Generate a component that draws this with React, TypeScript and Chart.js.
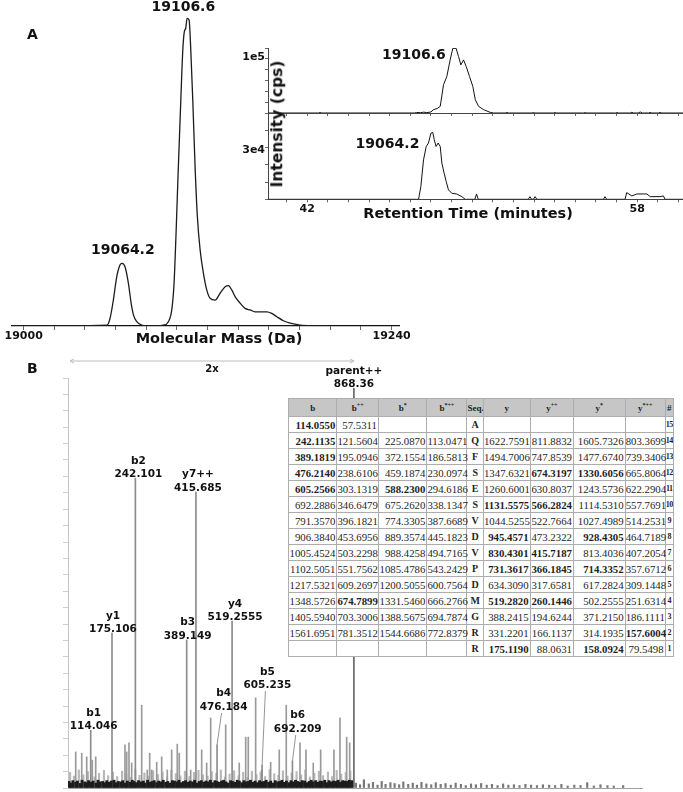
import React, { useEffect, useRef } from 'react';
import { Chart, registerables } from 'chart.js';

Chart.register(...registerables);

const SANS = '"DejaVu Sans", Verdana, sans-serif';
const SERIF = '"Liberation Serif", "Times New Roman", serif';
Chart.defaults.font.family = SANS;

// ---------------- Panel A: deconvoluted mass spectrum ----------------
const massDa = [18992, 19054.4, 19056.4, 19058.5, 19060.7, 19062.9, 19064.2, 19066.1, 19068.3, 19070.1, 19071.6, 19073.8, 19077.0, 19081.3,
  19091.1, 19094.4, 19096.6, 19098.1, 19099.4, 19100.9, 19102.5, 19103.8, 19104.8, 19105.7, 19106.6, 19107.9, 19109.0, 19110.3, 19111.8,
  19113.3, 19115.1, 19117.2, 19119.4, 19121.6, 19124.9, 19128.1, 19131.4, 19133.5, 19135.7, 19137.9, 19141.2, 19144.4, 19147.7, 19150.9,
  19154.2, 19158.6, 19161.8, 19165.1, 19169.4, 19173.8, 19180.3, 19191.2, 19201.8];
const massIntensity = [0, 0.3, 2.6, 8.4, 15.9, 19.8, 20.3, 19.2, 13.9, 7.4, 3.6, 1.4, 0.3, 0,
  0.3, 1.4, 5.2, 13.9, 30.1, 51.6, 73.2, 89.4, 95.3, 96.4, 99.6, 99.1, 89.4, 73.2, 51.6,
  35.4, 24.6, 17.2, 11.7, 9.0, 8.4, 10.6, 12.7, 13.1, 11.7, 9.5, 7.4, 5.7, 5.2, 4.6,
  4.6, 4.6, 4.1, 3.0, 1.7, 0.9, 0.3, 0.1, 0];
const massTickLabels: Record<number, string> = { 19000: '19000', 19240: '19240' };
const massPeakLabels = ['19064.2', '19106.6'];

// ---------------- Panel A inset: ion chromatograms ----------------
const rtTop = [40.1, 42.55, 42.63, 42.71, 47.2, 47.3, 47.5, 47.65, 47.8, 48.0, 48.12, 48.3, 48.45, 48.61, 48.77, 48.93, 49.06, 49.22,
  49.34, 49.45, 49.58, 49.71, 49.87, 50.03, 50.15, 50.31, 50.55, 50.87, 51.03, 51.6, 51.68, 51.76, 52.9, 52.97, 53.05, 53.95, 54.02,
  54.1, 55.4, 55.48, 55.56, 56.95, 57.02, 57.1, 57.66, 57.74, 57.82, 58.05, 58.15, 58.25, 58.55, 58.63, 58.71, 59.03, 59.11, 59.19, 60.22];
const intTop = [0, 0, 900, 0, 0, 900, 600, 1500, 700, 1800, 6000, 8000, 11900, 50600, 65500, 95200, 116000, 116000,
  101000, 86300, 95200, 83300, 65500, 47600, 23800, 11900, 6000, 1200, 0, 0, 900, 0, 0, 700, 0, 0, 800,
  0, 0, 700, 0, 0, 700, 0, 0, 1200, 0, 0, 1800, 0, 0, 1000, 0, 0, 900, 0, 0];
const rtBottom = [40.1, 47.40, 47.51, 47.64, 47.77, 47.88, 48.00, 48.09, 48.16, 48.25, 48.35, 48.45, 48.53, 48.64, 48.74, 48.85,
  49.01, 49.25, 49.50, 49.66, 50.13, 50.21, 50.29, 52.72, 52.80, 52.88, 52.97, 53.05, 53.13, 56.36, 56.44, 56.52, 57.41, 57.49,
  57.74, 57.98, 58.30, 58.47, 58.63, 59.11, 59.27, 59.35, 60.22];
const intBottom = [0, 0, 7700, 23900, 32000, 34100, 40100, 40500, 36100, 32000, 34100, 32000, 21900, 15800, 10700, 5700,
  3650, 3240, 1600, 0, 0, 3240, 0, 0, 1600, 0, 0, 1600, 0, 0, 1600, 0, 0, 4050,
  2030, 3240, 3240, 3240, 1620, 1620, 2030, 0, 0];
const rtTickLabels: Record<number, string> = { 42: '42', 58: '58' };
const eicYTickLabels = ['1e5', '3e4'];
const eicYTickValues = [100000, 30000];
const eicPeakLabels = ['19106.6', '19064.2'];

// ---------------- Panel B: MS/MS spectrum ----------------
const ionNames = ['b1', 'y1', 'b2', 'b3', 'y7++', 'b4', 'y4', 'b5', 'b6', 'parent++'];
const ionLabelMz = ['114.046', '175.106', '242.101', '389.149', '415.685', '476.184', '519.2555', '605.235', '692.209', '868.36'];
const ionMz = [114.046, 175.106, 242.101, 389.149, 415.685, 476.184, 519.2555, 605.235, 692.209, 868.36];
const ionIntensity = [14.1, 37.8, 75.6, 36.1, 72.2, 10.5, 40.7, 5.6, 6.6, 97.5];
// label layout (pixels): horizontal nudge and lift above the peak top
const ionLabelDx = [3, 1, 3, 1, 2, 6.5, 3, 5.3, 5.3, 0];
const ionLabelLift = [0, 0, 0, 0, 0, 34, 0, 76, 28, 0];

const fragNoiseMz = [71.1, 88.3, 102.6, 118.6, 128.4, 212.3, 217.2, 223.8, 231.5, 260.2, 276.2, 283.1, 288.8, 303.2, 317.5, 333.5,
  346.1, 362.2, 367.9, 400.6, 432.1, 446.4, 457.9, 500.9, 539.8, 558.2, 565.6, 586.8, 604.0, 629.8, 654.4, 674.5, 713.8, 731.0,
  751.9, 773.1, 811.2, 828.4, 847.6, 856.2];
const fragNoiseInt = [8.8, 8.5, 7.6, 6.8, 7.6, 10.5, 8.8, 11.0, 6.1, 20.2, 4.4, 8.5, 4.4, 6.3, 7.6, 4.4,
  9.3, 10.7, 8.5, 4.4, 9.3, 6.1, 17.1, 15.4, 6.1, 12.4, 12.4, 22.0, 4.4, 6.3, 9.3, 20.2, 11.0, 9.3,
  6.1, 9.3, 9.3, 17.1, 12.4, 11.0];

const lightNoiseMz = [55, 66, 80, 93, 106, 125, 138, 152, 164, 178, 190, 204, 216, 229, 242, 254, 268, 281, 293, 307,
  320, 333, 345, 358, 371, 384, 397, 410, 423, 436, 449, 461, 474, 487, 499, 512, 525, 538, 551, 563,
  576, 589, 601, 614, 627, 640, 652, 665, 678, 690, 704, 717, 729, 742, 755, 768, 780, 794, 806, 819, 832, 845, 858];
const lightNoiseInt = [3.8, 2.9, 4.4, 3.2, 4.0, 2.7, 3.6, 4.3, 3.0, 3.9, 2.8, 4.1, 3.4, 2.6, 4.5, 3.1, 3.7, 2.9, 4.2, 3.3,
  3.9, 2.7, 4.4, 3.5, 3.0, 4.1, 2.8, 3.8, 4.3, 3.2, 2.9, 4.0, 3.6, 4.4, 2.7, 3.4, 4.2, 3.0, 3.8, 2.6,
  4.1, 3.3, 3.9, 2.8, 4.5, 3.5, 3.1, 4.2, 2.9, 3.7, 4.0, 3.2, 4.4, 2.7, 3.6, 4.1, 3.0, 3.9, 2.8, 4.3, 3.4, 3.8, 4.2];

const darkNoiseMz = [52, 58, 63, 71, 76, 84, 89, 97, 103, 108, 116, 121, 129, 135, 140, 148, 155, 160, 167, 173,
  181, 186, 193, 200, 206, 213, 219, 226, 233, 238, 245, 251, 258, 265, 270, 277, 284, 290, 296, 303,
  309, 316, 322, 329, 335, 341, 348, 354, 361, 367, 374, 380, 386, 393, 399, 406, 412, 419, 425, 431,
  438, 444, 451, 457, 463, 470, 476, 483, 489, 495, 502, 508, 515, 521, 528, 534, 540, 547, 553, 560,
  566, 572, 579, 585, 592, 598, 605, 611, 617, 624, 630, 637, 643, 650, 656, 662, 669, 675, 682, 688,
  695, 701, 707, 714, 720, 727, 733, 740, 746, 752, 759, 765, 772, 778, 785, 791, 797, 804, 810, 817,
  823, 830, 836, 842, 849, 855, 862];
const darkNoiseInt = [1.6, 1.2, 1.8, 1.4, 1.7, 1.1, 1.9, 1.5, 1.3, 1.8, 1.4, 1.7, 1.2, 1.9, 1.5, 1.6, 1.3, 1.8, 1.4, 1.7,
  1.9, 1.3, 1.6, 1.5, 1.8, 1.2, 1.7, 1.4, 1.9, 1.6, 1.3, 1.8, 1.5, 1.7, 1.2, 1.9, 1.4, 1.6, 1.8, 1.3,
  1.7, 1.5, 1.9, 1.4, 1.6, 1.2, 1.8, 1.7, 1.5, 1.9, 1.3, 1.6, 1.8, 1.4, 1.7, 1.5, 1.9, 1.2, 1.6, 1.8,
  1.4, 1.7, 1.5, 1.9, 1.3, 1.8, 1.6, 1.4, 1.7, 1.9, 1.5, 1.2, 1.8, 1.6, 1.4, 1.9, 1.7, 1.3, 1.8, 1.5,
  1.6, 1.9, 1.4, 1.7, 1.3, 1.8, 1.5, 1.6, 1.9, 1.4, 1.7, 1.2, 1.8, 1.5, 1.6, 1.9, 1.4, 1.7, 1.3, 1.8,
  1.5, 1.9, 1.6, 1.4, 1.8, 1.7, 1.3, 1.6, 1.9, 1.5, 1.8, 1.4, 1.7, 1.6, 1.9, 1.3, 1.8, 1.5, 1.7, 1.6,
  1.9, 1.4, 1.8, 1.7, 1.6, 1.9, 1.8];

const highNoiseMz = [874, 886, 897, 911, 923, 936, 948, 959, 973, 985, 998, 1010, 1024, 1037, 1049, 1062, 1076, 1090, 1103, 1117,
  1131, 1146, 1160, 1175, 1189, 1204, 1218, 1233, 1249, 1264, 1280, 1296, 1311, 1327, 1343, 1360, 1376, 1393, 1410, 1428,
  1445, 1463, 1481, 1500, 1518, 1537, 1556, 1575, 1595, 1613, 1640];
const highNoiseInt = [1.2, 0.8, 2.0, 1.0, 1.4, 0.7, 1.6, 0.9, 1.3, 1.1, 0.8, 1.5, 0.9, 1.2, 0.7, 1.4, 1.0, 0.8, 1.3, 0.9,
  1.1, 0.7, 1.2, 0.9, 0.6, 1.0, 0.8, 1.1, 0.7, 0.9, 0.6, 1.0, 0.7, 0.8, 0.6, 0.9, 0.7, 0.6, 0.8, 0.7,
  0.6, 0.9, 0.5, 0.7, 0.6, 1.3, 0.5, 0.8, 0.6, 0.5, 0.6];

// ---------------- Fragment table ----------------
const seqResidues = ['A', 'Q', 'F', 'S', 'E', 'S', 'V', 'D', 'V', 'P', 'D', 'M', 'G', 'R', 'R'];
const seqIndex = [15, 14, 13, 12, 11, 10, 9, 8, 7, 6, 5, 4, 3, 2, 1];
const bIons = ['114.0550', '242.1135', '389.1819', '476.2140', '605.2566', '692.2886', '791.3570', '906.3840', '1005.4524', '1102.5051', '1217.5321', '1348.5726', '1405.5940', '1561.6951', ''];
const b2Ions = ['57.5311', '121.5604', '195.0946', '238.6106', '303.1319', '346.6479', '396.1821', '453.6956', '503.2298', '551.7562', '609.2697', '674.7899', '703.3006', '781.3512', ''];
const bStarIons = ['', '225.0870', '372.1554', '459.1874', '588.2300', '675.2620', '774.3305', '889.3574', '988.4258', '1085.4786', '1200.5055', '1331.5460', '1388.5675', '1544.6686', ''];
const bStar2Ions = ['', '113.0471', '186.5813', '230.0974', '294.6186', '338.1347', '387.6689', '445.1823', '494.7165', '543.2429', '600.7564', '666.2766', '694.7874', '772.8379', ''];
const yIons = ['', '1622.7591', '1494.7006', '1347.6321', '1260.6001', '1131.5575', '1044.5255', '945.4571', '830.4301', '731.3617', '634.3090', '519.2820', '388.2415', '331.2201', '175.1190'];
const y2Ions = ['', '811.8832', '747.8539', '674.3197', '630.8037', '566.2824', '522.7664', '473.2322', '415.7187', '366.1845', '317.6581', '260.1446', '194.6244', '166.1137', '88.0631'];
const yStarIons = ['', '1605.7326', '1477.6740', '1330.6056', '1243.5736', '1114.5310', '1027.4989', '928.4305', '813.4036', '714.3352', '617.2824', '502.2555', '371.2150', '314.1935', '158.0924'];
const yStar2Ions = ['', '803.3699', '739.3406', '665.8064', '622.2904', '557.7691', '514.2531', '464.7189', '407.2054', '357.6712', '309.1448', '251.6314', '186.1111', '157.6004', '79.5498'];
const matchedFragments = ['114.0550', '242.1135', '389.1819', '476.2140', '605.2566', '588.2300', '674.3197', '1330.6056', '1131.5575',
  '566.2824', '945.4571', '928.4305', '830.4301', '415.7187', '731.3617', '366.1845', '714.3352', '674.7899', '519.2820', '260.1446',
  '157.6004', '175.1190', '158.0924'];
const tableHeaders: [string, string][] = [['b', ''], ['b', '++'], ['b', '*'], ['b', '*++'], ['Seq.', ''], ['y', ''], ['y', '++'], ['y', '*'], ['y', '*++'], ['#', '']];
const colWidths = [48.4, 41.6, 48.4, 40, 16.6, 46.7, 43.3, 51.7, 40, 8.3];

const pts = (xs: number[], ys: number[]) => xs.map((x, i) => ({ x, y: ys[i] }));

const fixH = (h: number) => (s: any) => { s.height = h; };
const fixW = (w: number) => (s: any) => { s.width = w; };
const tickFont = { family: SANS, weight: 'bold' as const, size: 11 };
const noUi = { legend: { display: false }, tooltip: { enabled: false } };

function makeMassChart(): any {
  return {
    type: 'line',
    data: { datasets: [{ data: pts(massDa, massIntensity), borderColor: '#1c1c1c', borderWidth: 1.3, pointRadius: 0, cubicInterpolationMode: 'monotone', fill: false }] },
    options: {
      animation: false, responsive: false, events: [],
      layout: { padding: { left: 12, right: 21, top: 11, bottom: 0 } },
      plugins: noUi,
      scales: {
        x: { type: 'linear', min: 18992.4, max: 19244.8, afterFit: fixH(19),
          border: { display: true, color: '#111', width: 1.2 },
          grid: { display: true, drawOnChartArea: false, drawTicks: true, tickLength: 4, color: '#666' },
          ticks: { display: true, stepSize: 20, includeBounds: false, autoSkip: false, maxRotation: 0, padding: 0, color: '#111', font: tickFont,
            callback: (v: number) => massTickLabels[Math.round(v)] ?? '' } },
        y: { display: false, min: 0, max: 102 },
      },
    },
  };
}

// y tick labels of the inset are written by this plugin (the axis box is kept tight)
const eicYLabelPlugin = {
  id: 'eicYLabel',
  afterDraw(chart: any) {
    const o = chart.options.plugins.eicYLabel;
    if (!o) return;
    const { ctx, chartArea } = chart;
    const y = chart.scales.y.getPixelForValue(o.value);
    ctx.save();
    ctx.font = `bold 11px ${SANS}`;
    ctx.fillStyle = '#111';
    ctx.textAlign = 'right';
    ctx.textBaseline = 'middle';
    ctx.fillText(o.text, chartArea.left - 3, y);
    ctx.restore();
  },
};

function makeEic(xs: number[], ys: number[], yMax: number, yStep: number, labelIdx: number, showX: boolean, padTop: number, xHeight: number): any {
  return {
    type: 'line',
    data: { datasets: [{ data: pts(xs, ys), borderColor: '#111', borderWidth: 1, pointRadius: 0, tension: 0, fill: false }] },
    options: {
      animation: false, responsive: false, events: [],
      layout: { padding: { left: 0, right: 0, top: padTop, bottom: 0 } },
      plugins: { ...noUi, eicYLabel: { value: eicYTickValues[labelIdx], text: eicYTickLabels[labelIdx] } },
      scales: {
        x: { type: 'linear', min: 40.1, max: 60.22, afterFit: fixH(xHeight),
          border: { display: true, color: '#444', width: 1 },
          grid: { display: true, drawOnChartArea: false, drawTicks: true, tickLength: 3, color: '#666' },
          ticks: showX
            ? { display: true, stepSize: 1, includeBounds: false, autoSkip: false, maxRotation: 0, padding: 0, color: '#111', font: tickFont,
                callback: (v: number) => rtTickLabels[Math.round(v)] ?? '' }
            : { display: false, stepSize: 1, includeBounds: false } },
        y: { type: 'linear', min: 0, max: yMax, afterFit: fixW(38),
          border: { display: true, color: '#444', width: 1 },
          grid: { display: true, drawOnChartArea: false, drawTicks: true, tickLength: 3, color: '#666' },
          ticks: { display: false, stepSize: yStep, includeBounds: false } },
      },
    },
    plugins: [eicYLabelPlugin],
  };
}

const ionLabelPlugin = {
  id: 'ionLabels',
  afterDatasetsDraw(chart: any) {
    const { ctx, chartArea } = chart;
    const x = chart.scales.x, y = chart.scales.y;
    ctx.save();
    ctx.font = `bold 10.5px ${SANS}`;
    ctx.fillStyle = '#111';
    ctx.textAlign = 'center';
    ctx.textBaseline = 'alphabetic';
    ionNames.forEach((name, i) => {
      const px = x.getPixelForValue(ionMz[i]);
      const top = y.getPixelForValue(ionIntensity[i]);
      const base = top - 1 - ionLabelLift[i];
      const cx = px + ionLabelDx[i];
      ctx.fillText(ionLabelMz[i], cx, base);
      ctx.fillText(name, cx, base - 13.5);
      if (ionLabelLift[i] > 0) {
        ctx.strokeStyle = '#888';
        ctx.lineWidth = 0.9;
        ctx.beginPath();
        ctx.moveTo(cx - 2, base + 3);
        ctx.lineTo(px, top);
        ctx.stroke();
      }
    });
    // "2x" magnification bracket
    const ya = chartArea.top - 17;
    const x0 = chartArea.left + 2;
    const x1 = x.getPixelForValue(ionMz[ionMz.length - 1]);
    ctx.strokeStyle = '#bdbdbd';
    ctx.lineWidth = 1;
    ctx.beginPath();
    ctx.moveTo(x0, ya); ctx.lineTo(x1, ya);
    ctx.moveTo(x0 + 4, ya - 2); ctx.lineTo(x0, ya); ctx.lineTo(x0 + 4, ya + 2);
    ctx.moveTo(x1 - 4, ya - 2); ctx.lineTo(x1, ya); ctx.lineTo(x1 - 4, ya + 2);
    ctx.stroke();
    ctx.font = `bold 10px ${SANS}`;
    ctx.fillText('2x', (x0 + x1) / 2, ya + 11.3);
    ctx.restore();
  },
};

function makeMsMs(): any {
  const bar = (data: any, color: any, thick: number) => ({ data, backgroundColor: color, barThickness: thick, grouped: false, borderWidth: 0 });
  const ionColors = ionNames.map((n) => (n.startsWith('parent') ? '#666' : '#8c8c8c'));
  return {
    type: 'bar',
    data: {
      datasets: [
        bar(pts(darkNoiseMz, darkNoiseInt), '#1c1c1c', 2.2),
        bar(pts(ionMz, ionIntensity), ionColors, 1),
        bar(pts(fragNoiseMz, fragNoiseInt), '#9a9a9a', 1),
        bar(pts(lightNoiseMz, lightNoiseInt), '#b8b8b8', 1.5),
        bar(pts(highNoiseMz, highNoiseInt), '#777', 1.5),
      ],
    },
    options: {
      animation: false, responsive: false, events: [],
      layout: { padding: { left: 68, right: 41, top: 38, bottom: 4 } },
      plugins: noUi,
      scales: {
        x: { type: 'linear', min: 49, max: 1694, offset: false, afterFit: fixH(0),
          border: { display: true, color: '#a0a0a0', width: 1 },
          grid: { display: false }, ticks: { display: false } },
        y: { type: 'linear', min: 0, max: 100, afterFit: fixW(0),
          border: { display: true, color: '#c4c4c4', width: 1 },
          grid: { display: true, drawOnChartArea: false, drawTicks: true, tickLength: 5, color: '#cfcfcf' },
          ticks: { display: false, stepSize: 4 } },
      },
    },
    plugins: [ionLabelPlugin],
  };
}

function ChartBox({ left, top, width, height, make }: { left: number; top: number; width: number; height: number; make: () => any }) {
  const ref = useRef<HTMLCanvasElement>(null);
  useEffect(() => {
    const chart = new Chart(ref.current as HTMLCanvasElement, make());
    return () => chart.destroy();
  }, []);
  return (
    <div style={{ position: 'absolute', left, top, width, height }}>
      <canvas ref={ref} width={width} height={height} style={{ display: 'block', width, height }} />
    </div>
  );
}

function Txt({ x, y, size, text, align = 'center', rotate = false }: { x: number; y: number; size: number; text: string; align?: string; rotate?: boolean }) {
  if (rotate) {
    return (
      <div style={{ position: 'absolute', left: x, top: y, transform: 'translate(-50%, -50%) rotate(-90deg)', fontFamily: SANS, fontWeight: 'bold', fontSize: size, lineHeight: `${size}px`, whiteSpace: 'nowrap', color: '#111' }}>{text}</div>
    );
  }
  const tx = align === 'center' ? 'translateX(-50%)' : align === 'right' ? 'translateX(-100%)' : 'none';
  return (
    <div style={{ position: 'absolute', left: x, top: y - 0.846 * size, transform: tx, fontFamily: SANS, fontWeight: 'bold', fontSize: size, lineHeight: `${size}px`, whiteSpace: 'nowrap', color: '#111' }}>{text}</div>
  );
}

function IonTable() {
  const cols: string[][] = [bIons, b2Ions, bStarIons, bStar2Ions, seqResidues, yIons, y2Ions, yStarIons, yStar2Ions, seqIndex.map(String)];
  const cell: React.CSSProperties = { border: '1px solid #adadad', whiteSpace: 'nowrap', lineHeight: '14px' };
  return (
    <table style={{ position: 'absolute', left: 288, top: 398, width: 385, borderCollapse: 'collapse', tableLayout: 'fixed', fontFamily: SERIF, fontSize: 10.8, color: '#1e1e1e', background: '#fff', border: '1px solid #8c8c8c' }}>
      <colgroup>{colWidths.map((w, i) => <col key={i} style={{ width: w }} />)}</colgroup>
      <thead>
        <tr style={{ height: 18 }}>
          {tableHeaders.map(([t, s], i) => (
            <th key={i} style={{ ...cell, background: '#c6c6c6', textAlign: 'center', fontSize: 9, padding: 0, overflow: 'hidden' }}>
              {t}{s ? <sup style={{ fontSize: 6, lineHeight: 0 }}>{s}</sup> : null}
            </th>
          ))}
        </tr>
      </thead>
      <tbody>
        {seqResidues.map((_, r) => (
          <tr key={r} style={{ height: 16 }}>
            {cols.map((col, c) => {
              const v = col[r];
              const isSeq = c === 4;
              const isIdx = c === 9;
              const bold = isSeq || isIdx || matchedFragments.includes(v);
              return (
                <td key={c} style={{ ...cell, textAlign: isSeq || isIdx ? 'center' : 'right', fontWeight: bold ? 'bold' : 'normal',
                  fontSize: isIdx ? 8 : isSeq ? 10 : 10.8, padding: isIdx || isSeq ? 0 : '0 1px 0 0', letterSpacing: isIdx ? -0.4 : 0,
                  overflow: isIdx ? 'hidden' : 'visible' }}>{v}</td>
              );
            })}
          </tr>
        ))}
      </tbody>
    </table>
  );
}

export default function App() {
  return (
    <div style={{ position: 'absolute', left: 0, top: 0, width: 683, height: 792, overflow: 'hidden', background: '#fff' }}>
      <ChartBox left={0} top={0} width={420} height={345} make={makeMassChart} />
      <ChartBox left={230} top={40} width={453} height={80} make={() => makeEic(rtTop, intTop, 116600, 20000, 0, false, 8, 7)} />
      <ChartBox left={230} top={105} width={453} height={120} make={() => makeEic(rtBottom, intBottom, 52300, 10000, 1, true, 8, 25.7)} />
      <ChartBox left={0} top={340} width={683} height={452} make={makeMsMs} />

      <Txt x={27} y={39.2} size={14} text="A" align="left" />
      <Txt x={183.3} y={10.7} size={14} text={massPeakLabels[1]} />
      <Txt x={122.8} y={254} size={14} text={massPeakLabels[0]} />
      <Txt x={219} y={343.3} size={14.5} text="Molecular Mass (Da)" />

      <Txt x={413.8} y={59.3} size={14} text={eicPeakLabels[0]} />
      <Txt x={387.5} y={147.7} size={14} text={eicPeakLabels[1]} />
      <Txt x={468} y={218.5} size={14.5} text="Retention Time (minutes)" />
      <Txt x={277.5} y={124} size={15.5} text="Intensity (cps)" rotate />

      <Txt x={27} y={372.5} size={14} text="B" align="left" />
      <IonTable />
    </div>
  );
}
